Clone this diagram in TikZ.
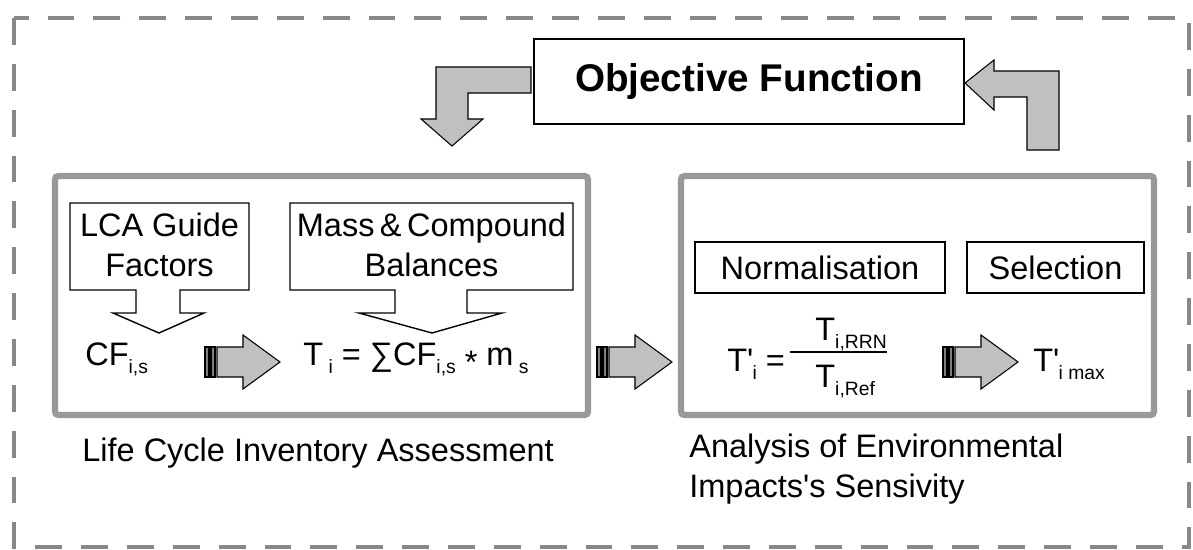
\documentclass[tikz,border=0pt]{standalone}
\usepackage{fontspec}
\setmainfont{Liberation Sans}
\usepackage{xcolor}
\usepackage{tikz}
\usetikzlibrary{positioning}
\definecolor{arrowgray}{HTML}{C0C0C0}
\definecolor{panelgray}{HTML}{999999}
\definecolor{dashgray}{HTML}{888888}
\newcommand\lblfont{\fontsize{18.5}{22.7}\selectfont}
\newcommand\subfont{\fontsize{11}{11}\selectfont}
\newcommand\sub[1]{\raisebox{-5pt}{\subfont #1}}
\newcommand\prm{\rlap{\textquotesingle}}
\tikzset{
  % outer frame and the two stage panels
  framebox/.style={draw=dashgray,line width=2.8pt,dash pattern=on 15.3pt off 10.8pt},
  panel/.style={draw=panelgray,line width=3.6pt,rounded corners=2pt},
  % boxes
  objbox/.style={draw,line width=0.9pt,minimum width=8.6cm,minimum height=1.7cm,
    font=\fontsize{22}{24}\selectfont\bfseries},
  stepbox/.style={draw,line width=0.8pt,minimum height=1.02cm,font=\lblfont},
  callout/.style={draw,line width=0.8pt,fill=white,line join=miter},
  % block arrows
  blockarrow/.style={fill=arrowgray,draw=black,line width=0.6pt,line join=miter},
  stripe/.style={fill=gray,draw=black,line width=0.8pt},
  % texts
  lbl/.style={font=\lblfont,inner sep=0pt},
  formula/.style={font=\lblfont,inner sep=0pt,anchor=base west},
}

\begin{document}
\begin{tikzpicture}[x=0.02cm,y=-0.02cm]
\useasboundingbox (0,0) rectangle (1193,549);
\fill[white] (0,0) rectangle (1193,549);

% dashed frame
\draw[framebox] (14,18) rectangle (1189,547);

%% objective function and feedback arrows
\node[objbox] (objfn) at (749,81.5) {Objective Function};
\draw[blockarrow] (531,67) -- (436,67) -- (436,119) -- (421,119) -- (452,146)
  -- (483,119) -- (468,119) -- (468,93) -- (531,93) -- cycle;
\draw[blockarrow] (965,83) -- (994,60) -- (994,71) -- (1059,71) -- (1059,150)
  -- (1027,150) -- (1027,97) -- (994,97) -- (994,110) -- cycle;

%% stage panels
\draw[panel] (55,176) rectangle (588,415);
\draw[panel] (681,176) rectangle (1154,415);

%% inventory inputs (callouts)
\draw[callout] (70,203) -- (249,203) -- (249,290) -- (180,290) -- (180,313) -- (204,313)
  -- (159,333) -- (113,313) -- (136,313) -- (136,290) -- (70,290) -- cycle;
\draw[callout] (290,203) -- (573,203) -- (573,290) -- (467,290) -- (467,313) -- (502,313)
  -- (432,333) -- (359,313) -- (395,313) -- (395,290) -- (290,290) -- cycle;
\node[lbl,align=center] (lca) at (159.5,245) {LCA Guide\\Factors};
\node[lbl,align=center] (mass) at (431.5,245) {Mass\,\&\,Compound\\Balances};

%% striped arrows
\foreach \x/\y in {205/362, 597/362, 943/362}{
  \draw[stripe] (\x,\y-15) rectangle (\x+4,\y+15);
  \draw[stripe] (\x+6,\y-15) rectangle (\x+10,\y+15);
  \draw[blockarrow] (\x+12,\y-15) -- (\x+38,\y-15) -- (\x+38,\y-27) -- (\x+75,\y)
    -- (\x+38,\y+27) -- (\x+38,\y+15) -- (\x+12,\y+15) -- cycle;
}

%% inventory formulas
\node[formula] (cf) at (85,365) {CF\sub{i,s}};
\node[formula] (ti) at (303,365) {T\,\sub{i} = \char"2211 CF\sub{i,s} \raisebox{-5pt}{*} m\,\sub{s}};

%% sensitivity analysis
\node[stepbox,minimum width=5cm] (norm) at (820,267.5) {Normalisation};
\node[stepbox,minimum width=3.54cm] (sel) at (1055.5,267.5) {Selection};
\node[formula] (tnorm) at (727,371) {T\prm\,\sub{i} =};
\node[formula] (num) at (815,340) {T\sub{i,RRN}};
\node[formula] (den) at (815,387) {T\sub{i,Ref}};
\draw[line width=1.2pt] (790,352) -- (887,352);
\node[formula] (tmax) at (1033,371) {T\prm\,\sub{i max}};

%% stage names
\node[lbl,anchor=base west] (lciname) at (82,461) {Life Cycle Inventory Assessment};
\node[lbl,anchor=base west,align=left] (aesname) at (689,497)
  {Analysis of Environmental\\Impacts\textquotesingle s Sensivity};
\end{tikzpicture}
\end{document}
